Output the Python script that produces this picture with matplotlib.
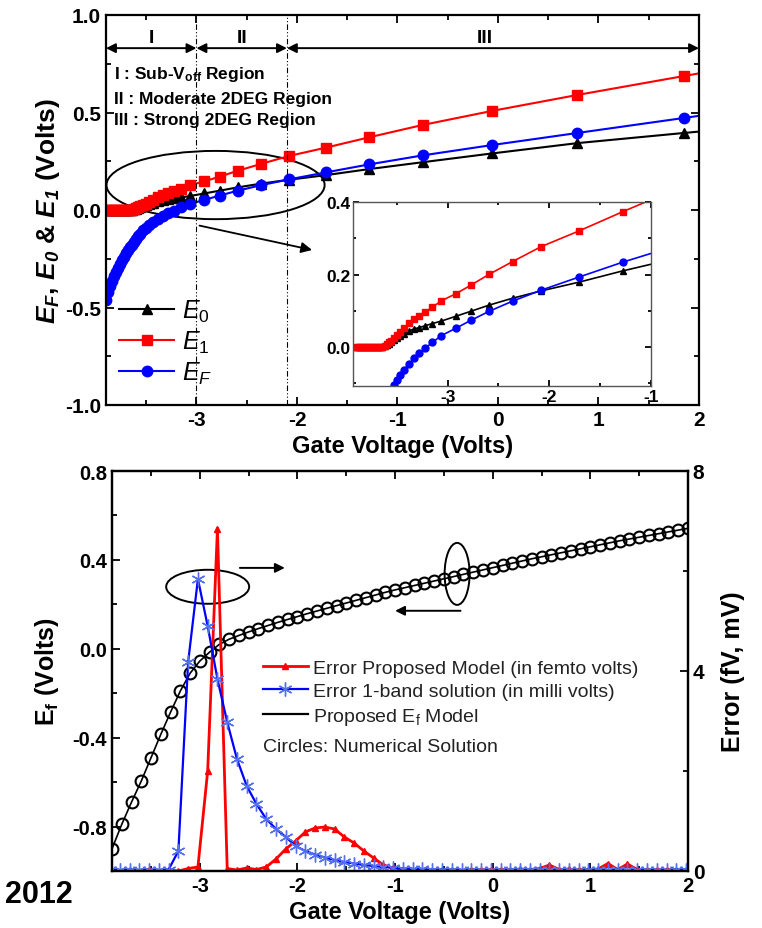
import numpy as np
import matplotlib.pyplot as plt
from matplotlib.patches import Ellipse
from matplotlib.ticker import MultipleLocator, FormatStrFormatter
from matplotlib.lines import Line2D

plt.rcParams['font.family'] = ['Liberation Sans', 'DejaVu Sans']
plt.rcParams['mathtext.fontset'] = 'custom'
plt.rcParams['mathtext.rm'] = 'Liberation Sans'
plt.rcParams['mathtext.it'] = 'Liberation Sans:italic'
plt.rcParams['mathtext.bf'] = 'Liberation Sans:bold'
plt.rcParams['mathtext.bfit'] = 'Liberation Sans:italic:bold'
plt.rcParams['axes.unicode_minus'] = False

# ---- top panel: subband energies and Fermi level vs gate voltage ----
vg_top = [-3.90, -3.88, -3.86, -3.84, -3.82, -3.80, -3.78, -3.76, -3.74, -3.72,
          -3.70, -3.68, -3.66, -3.64, -3.62, -3.60, -3.58, -3.56, -3.53, -3.50,
          -3.47, -3.43, -3.38, -3.33, -3.28, -3.22, -3.15, -3.06, -2.92, -2.77,
          -2.59, -2.36, -2.08, -1.71, -1.28, -0.75, -0.06, 0.79, 1.85, 2.95]
e0 = [0.0, 0.0, 0.0, 0.0, 0.0, 0.0, 0.0, 0.0, 0.0, 0.0,
      0.0, 0.0, 0.0, 0.001, 0.003, 0.006, 0.009, 0.013, 0.019, 0.025,
      0.031, 0.037, 0.045, 0.050, 0.054, 0.059, 0.065, 0.072, 0.085, 0.099,
      0.116, 0.135, 0.155, 0.179, 0.210, 0.245, 0.290, 0.343, 0.395, 0.447]
e1 = [0.0, 0.0, 0.0, 0.0, 0.0, 0.0, 0.0, 0.0, 0.0, 0.0,
      0.0, 0.0, 0.0, 0.001, 0.004, 0.008, 0.013, 0.018, 0.025, 0.033,
      0.041, 0.052, 0.066, 0.077, 0.087, 0.097, 0.110, 0.128, 0.147, 0.171,
      0.201, 0.236, 0.277, 0.320, 0.373, 0.436, 0.508, 0.590, 0.687, 0.788]
ef = [-0.46, -0.418, -0.39, -0.364, -0.34, -0.318, -0.297, -0.277, -0.258, -0.24,
      -0.223, -0.207, -0.192, -0.177, -0.163, -0.149, -0.135, -0.122, -0.105, -0.090,
      -0.077, -0.062, -0.046, -0.031, -0.017, -0.003, 0.013, 0.032, 0.052, 0.074,
      0.099, 0.127, 0.157, 0.193, 0.234, 0.280, 0.333, 0.395, 0.472, 0.552]

# ---- bottom panel: Ef model / numerical, and errors ----
vg_num = [-3.9, -3.8, -3.7, -3.6, -3.5, -3.4, -3.3, -3.2, -3.1, -3.0,
          -2.9, -2.8, -2.7, -2.6, -2.5, -2.4, -2.3, -2.2, -2.1, -2.0,
          -1.9, -1.8, -1.7, -1.6, -1.5, -1.4, -1.3, -1.2, -1.1, -1.0,
          -0.9, -0.8, -0.7, -0.6, -0.5, -0.4, -0.3, -0.2, -0.1, 0.0,
          0.1, 0.2, 0.3, 0.4, 0.5, 0.6, 0.7, 0.8, 0.9, 1.0,
          1.1, 1.2, 1.3, 1.4, 1.5, 1.6, 1.7, 1.8, 1.9, 2.0]
ef_num = [-0.90, -0.79, -0.69, -0.595, -0.49, -0.385, -0.285, -0.19, -0.11, -0.055,
          -0.015, 0.020, 0.043, 0.060, 0.076, 0.091, 0.105, 0.119, 0.132, 0.145,
          0.158, 0.170, 0.182, 0.194, 0.206, 0.218, 0.230, 0.242, 0.254, 0.265,
          0.275, 0.285, 0.295, 0.305, 0.315, 0.325, 0.335, 0.345, 0.355, 0.365,
          0.375, 0.385, 0.395, 0.405, 0.414, 0.423, 0.432, 0.441, 0.450, 0.459,
          0.468, 0.477, 0.486, 0.494, 0.502, 0.510, 0.518, 0.526, 0.534, 0.542]

vg_err = [-3.92, -3.82, -3.72, -3.62, -3.52, -3.42, -3.32, -3.22, -3.12, -3.02,
          -2.92, -2.82, -2.72, -2.62, -2.52, -2.42, -2.32, -2.22, -2.12, -2.02,
          -1.92, -1.82, -1.72, -1.62, -1.52, -1.42, -1.32, -1.22, -1.12, -1.02,
          -0.92, -0.82, -0.72, -0.62, -0.52, -0.42, -0.32, -0.22, -0.12, -0.02,
          0.08, 0.18, 0.28, 0.38, 0.48, 0.58, 0.68, 0.78, 0.88, 0.98,
          1.08, 1.18, 1.28, 1.38, 1.48, 1.58, 1.68, 1.78, 1.88, 1.98]
err_prop = [0.02, 0.0, 0.02, 0.0, 0.02, 0.0, 0.02, 0.0, 0.05, 0.08,
            2.0, 6.85, 0.05, 0.02, 0.06, 0.03, 0.08, 0.24, 0.44, 0.60,
            0.78, 0.86, 0.88, 0.84, 0.68, 0.56, 0.40, 0.26, 0.12, 0.06,
            0.03, 0.02, 0.03, 0.01, 0.02, 0.02, 0.01, 0.03, 0.02, 0.02,
            0.03, 0.02, 0.04, 0.03, 0.05, 0.12, 0.03, 0.04, 0.02, 0.03,
            0.04, 0.15, 0.03, 0.14, 0.03, 0.02, 0.03, 0.02, 0.03, 0.02]
err_1band = [0.02, 0.02, 0.02, 0.02, 0.02, 0.02, 0.03, 0.40, 4.18, 5.84,
             4.90, 3.84, 2.98, 2.24, 1.70, 1.34, 1.04, 0.84, 0.68, 0.50,
             0.40, 0.33, 0.27, 0.22, 0.18, 0.15, 0.12, 0.10, 0.08, 0.065,
             0.05, 0.04, 0.035, 0.03, 0.03, 0.02, 0.02, 0.02, 0.02, 0.02,
             0.02, 0.02, 0.02, 0.02, 0.02, 0.02, 0.02, 0.02, 0.02, 0.02,
             0.02, 0.02, 0.02, 0.02, 0.02, 0.02, 0.02, 0.02, 0.02, 0.02]

W, H = 762, 929
fig = plt.figure(figsize=(W / 100, H / 100), dpi=100)

def frac(x0, y0, x1, y1):
    return [x0 / W, 1 - y1 / H, (x1 - x0) / W, (y1 - y0) / H]

def style_ticks(ax, size=13):
    ax.tick_params(which='both', direction='in', width=1.3)
    ax.tick_params(which='major', length=6, labelsize=size)
    ax.tick_params(which='minor', length=3.5)
    for lab in ax.get_xticklabels() + ax.get_yticklabels():
        lab.set_fontweight('bold')
    for sp in ax.spines.values():
        sp.set_linewidth(1.6)

# ================= top panel =================
ax1 = fig.add_axes(frac(106, 16, 699, 406))
ax1.plot(vg_top, e0, '-^', color='k', ms=7, lw=1.5)
ax1.plot(vg_top, e1, '-s', color='red', ms=6.5, lw=1.5)
ax1.plot(vg_top, ef, '-o', color='blue', ms=7.5, lw=1.5)
ax1.set_xlim(-3.9, 2.0)
ax1.set_ylim(-1.0, 1.0)
ax1.xaxis.set_major_locator(MultipleLocator(1))
ax1.xaxis.set_minor_locator(MultipleLocator(0.5))
ax1.yaxis.set_major_locator(MultipleLocator(0.5))
ax1.yaxis.set_minor_locator(MultipleLocator(0.25))
ax1.yaxis.set_major_formatter(FormatStrFormatter('%.1f'))
ax1.tick_params(which='both', top=True, right=True)
style_ticks(ax1, 15)
ax1.set_xlabel('Gate Voltage (Volts)', fontsize=17, fontweight='bold', labelpad=4)
ax1.set_ylabel(r'$\mathbfit{E}_{\mathbfit{F}}\mathbf{,}\ \mathbfit{E}_{\mathbfit{0}}\ \mathbf{&}\ '
               r'\mathbfit{E}_{\mathbfit{1}}\ \mathbf{(Volts)}$', fontsize=19, labelpad=2)

# region boundaries
for xb in (-3.0, -2.1):
    ax1.axvline(xb, color='k', lw=0.8, ls=(0, (5, 2, 1, 2, 1, 2)))
arrow_kw = dict(arrowstyle='<|-|>', color='k', lw=1.4, mutation_scale=14,
                shrinkA=0, shrinkB=0)
for (xa, xb2), lab in zip([(-3.9, -3.0), (-3.0, -2.1), (-2.1, 2.0)], ['I', 'II', 'III']):
    ax1.annotate('', xy=(xb2, 0.83), xytext=(xa, 0.83), arrowprops=arrow_kw)
    ax1.text((xa + xb2) / 2 if lab != 'III' else -0.13, 0.885, lab,
             ha='center', va='center', fontsize=14, fontweight='bold')
ax1.text(-3.82, 0.70, r'I : Sub-V$_{\mathbf{off}}$ Region', fontsize=12.5, fontweight='bold', va='center')
ax1.text(-3.82, 0.57, 'II : Moderate 2DEG Region', fontsize=12.5, fontweight='bold', va='center')
ax1.text(-3.82, 0.465, 'III : Strong 2DEG Region', fontsize=12.5, fontweight='bold', va='center')
ax1.add_patch(Ellipse((-2.81, 0.128), 2.17, 0.35, fill=False, color='k', lw=1.4))
ax1.annotate('', xy=(-1.85, -0.205), xytext=(-2.97, -0.08),
             arrowprops=dict(arrowstyle='-|>', color='k', lw=1.3, mutation_scale=16,
                             shrinkA=0, shrinkB=0))
hl = [Line2D([], [], color='k', marker='^', ms=7, lw=1.5),
      Line2D([], [], color='red', marker='s', ms=6.5, lw=1.5),
      Line2D([], [], color='blue', marker='o', ms=7.5, lw=1.5)]
ax1.legend(hl, ['$E_0$', '$E_1$', '$E_F$'], loc='upper left', bbox_to_anchor=(0.022, 0.275),
           frameon=False, fontsize=18, handlelength=2.2, labelspacing=0.2,
           handletextpad=0.3, borderaxespad=0, borderpad=0)

# inset
axin = fig.add_axes(frac(353, 203, 651, 387))
axin.plot(vg_top, e0, '-^', color='k', ms=4.5, lw=1.2)
axin.plot(vg_top, e1, '-s', color='red', ms=4, lw=1.2)
axin.plot(vg_top, ef, '-o', color='blue', ms=5, lw=1.2)
axin.set_xlim(-3.93, -1.0)
axin.set_ylim(-0.107, 0.4)
axin.xaxis.set_major_locator(MultipleLocator(1))
axin.xaxis.set_minor_locator(MultipleLocator(0.5))
axin.yaxis.set_major_locator(MultipleLocator(0.2))
axin.yaxis.set_minor_locator(MultipleLocator(0.1))
axin.yaxis.set_major_formatter(FormatStrFormatter('%.1f'))
axin.tick_params(which='both', top=True, right=True)
style_ticks(axin, 12.5)
axin.tick_params(which='major', length=4, pad=2)
axin.tick_params(which='minor', length=2.5)
for sp in axin.spines.values():
    sp.set_linewidth(1.0)
    sp.set_color('#555555')

# ================= bottom panel =================
ax2 = fig.add_axes(frac(112, 472, 688, 872))
ax2.plot(vg_num, ef_num, '-', color='k', lw=1.2)
ax2.plot(vg_num, ef_num, 'o', mfc='none', mec='k', ms=8.5, mew=1.5)
ax2.set_xlim(-3.9, 2.0)
ax2.set_ylim(-1.0, 0.8)
ax2.xaxis.set_major_locator(MultipleLocator(1))
ax2.xaxis.set_minor_locator(MultipleLocator(0.5))
ax2.yaxis.set_major_locator(MultipleLocator(0.4))
ax2.yaxis.set_minor_locator(MultipleLocator(0.2))
ax2.yaxis.set_major_formatter(FormatStrFormatter('%.1f'))
ax2.tick_params(which='both', top=True, right=False)
style_ticks(ax2, 14.5)
ax2.set_xlabel('Gate Voltage (Volts)', fontsize=17, fontweight='bold', labelpad=4)
ax2.set_ylabel(r'E$_{\mathbf{f}}$ (Volts)', fontsize=18, fontweight='bold', labelpad=8)

ax2r = ax2.twinx()
ax2r.plot(vg_err, err_prop, '-^', color='red', ms=5, lw=2)
ax2r.plot(vg_err, err_1band, '-', color='blue', lw=1.6, marker=(6, 2, 0), ms=10,
          mec='#5470ee', mew=1.0)
ax2r.set_ylim(0, 8)
ax2r.yaxis.set_major_locator(MultipleLocator(4))
ax2r.yaxis.set_minor_locator(MultipleLocator(2))
style_ticks(ax2r, 15)
ax2r.set_ylabel('Error (fV, mV)', fontsize=18, fontweight='bold', labelpad=12)

ax2.add_patch(Ellipse((-2.92, 0.279), 0.85, 0.153, fill=False, color='k', lw=1.4))
ax2.annotate('', xy=(-2.13, 0.364), xytext=(-2.59, 0.364),
             arrowprops=dict(arrowstyle='-|>', color='k', lw=1.4, mutation_scale=14,
                             shrinkA=0, shrinkB=0))
ax2.add_patch(Ellipse((-0.365, 0.337), 0.256, 0.279, fill=False, color='k', lw=1.4))
ax2.annotate('', xy=(-1.0, 0.171), xytext=(-0.33, 0.171),
             arrowprops=dict(arrowstyle='-|>', color='k', lw=1.4, mutation_scale=14,
                             shrinkA=0, shrinkB=0))

hb = [Line2D([], [], color='red', marker='^', ms=5, lw=2),
      Line2D([], [], color='blue', marker=(6, 2, 0), ms=10, mec='#5470ee', lw=1.6),
      Line2D([], [], color='k', lw=1.6)]
leg = ax2r.legend(hb, ['Error Proposed Model (in femto volts)',
                       'Error 1-band solution (in milli volts)',
                       r'Proposed E$_{\mathrm{f}}$ Model'],
                  loc='upper left', bbox_to_anchor=(0.262, 0.53), frameon=False,
                  fontsize=14, handlelength=2.3, labelspacing=0.3, handletextpad=0.3,
                  borderaxespad=0, borderpad=0)
for t in leg.get_texts():
    t.set_color('#222222')
ax2.text(0.262, 0.31, 'Circles: Numerical Solution', transform=ax2.transAxes,
         fontsize=14, color='#222222', va='center')

fig.text(0.006, 0.037, '2012', fontsize=22, fontweight='bold', va='center')

fig.savefig('out.png', dpi=100)
